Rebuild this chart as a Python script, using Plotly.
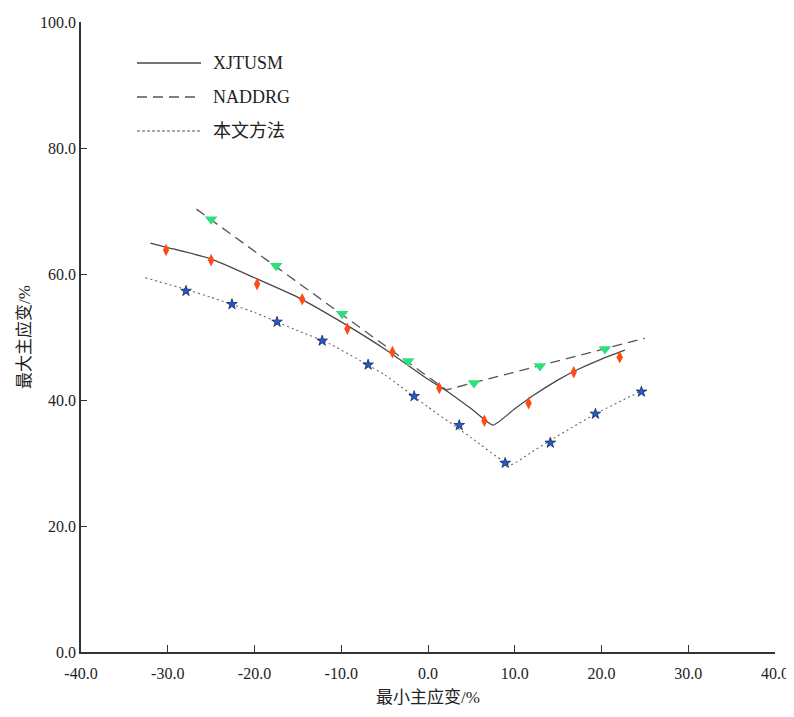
import plotly.graph_objects as go

# ---- data ----
xjtusm_line_x = [-32.0, -30.0, -25.0, -20.0, -15.0, -10.0, -5.0, 0.0, 2.2, 5.0, 7.5, 10.0, 12.0, 15.0, 17.2, 20.0, 22.7]
xjtusm_line_y = [64.9, 64.2, 62.4, 59.4, 56.3, 52.4, 48.1, 43.3, 41.4, 38.6, 36.0, 38.6, 40.6, 43.2, 44.8, 46.5, 47.9]
xjtusm_pts_x = [-30.2, -25.0, -19.7, -14.5, -9.3, -4.1, 1.3, 6.5, 11.6, 16.8, 22.1]
xjtusm_pts_y = [63.8, 62.2, 58.4, 56.0, 51.3, 47.6, 41.9, 36.7, 39.5, 44.4, 46.8]

naddrg_line_x = [-26.7, 2.1, 25.0]
naddrg_line_y = [70.3, 41.6, 49.8]
naddrg_pts_x = [-25.0, -17.5, -9.9, -2.3, 5.3, 12.9, 20.4]
naddrg_pts_y = [68.7, 61.3, 53.7, 46.2, 42.7, 45.4, 48.1]

method_line_x = [-32.6, -28.0, -25.0, -20.0, -15.0, -11.3, -5.0, 0.0, 5.0, 9.5, 11.8, 14.1, 19.3, 24.4]
method_line_y = [59.4, 57.6, 56.3, 53.9, 51.0, 48.9, 44.0, 38.9, 34.0, 29.7, 31.6, 33.6, 37.8, 41.3]
method_pts_x = [-27.9, -22.6, -17.4, -12.2, -6.9, -1.6, 3.6, 8.9, 14.1, 19.3, 24.6]
method_pts_y = [57.3, 55.2, 52.4, 49.4, 45.6, 40.6, 36.0, 30.0, 33.2, 37.8, 41.3]

x_ticks = [-40, -30, -20, -10, 0, 10, 20, 30, 40]
y_ticks = [0, 20, 40, 60, 80, 100]
legend_names = ["XJTUSM", "NADDRG", "本文方法"]
x_title = "最小主应变/%"
y_title = "最大主应变/%"

FONT = "Liberation Serif, Noto Sans CJK SC, serif"
NUMFONT = "Liberation Serif, Times New Roman, serif"

# figure size (page adds an 8px body offset) and plot area in figure pixels
W, H = 786, 709
L, R, T, B = 73, 767, 14, 644

fig = go.Figure()
fig.add_trace(go.Scatter(x=xjtusm_line_x, y=xjtusm_line_y, mode="lines",
                         line=dict(color="#474747", width=1.3, shape="spline", smoothing=0.4),
                         showlegend=False))
fig.add_trace(go.Scatter(x=naddrg_line_x, y=naddrg_line_y, mode="lines",
                         line=dict(color="#555555", width=1.3, dash="10px,6px"),
                         showlegend=False))
fig.add_trace(go.Scatter(x=method_line_x, y=method_line_y, mode="lines",
                         line=dict(color="#666666", width=1.1, dash="2px,3px", shape="spline", smoothing=0.4),
                         showlegend=False))
fig.add_trace(go.Scatter(x=xjtusm_pts_x, y=xjtusm_pts_y, mode="markers",
                         marker=dict(symbol="diamond-tall", size=9, color="#ff4a14",
                                     line=dict(width=0)),
                         showlegend=False))
fig.add_trace(go.Scatter(x=naddrg_pts_x, y=naddrg_pts_y, mode="markers",
                         marker=dict(symbol="triangle-down", size=11, color="#2ee07a",
                                     line=dict(width=0)),
                         showlegend=False))
fig.add_trace(go.Scatter(x=method_pts_x, y=method_pts_y, mode="markers",
                         marker=dict(symbol="star", size=8, color="#1d5bd0",
                                     line=dict(width=0.8, color="#1a2a55")),
                         showlegend=False))

# manual legend (positions given in screenshot pixels)
def px2paper_x(px):
    return (px - 8 - L) / float(R - L)

def px2paper_y(py):
    return (B - (py - 8)) / float(B - T)

leg_rows = [63, 97, 131]
leg_styles = [dict(color="#474747", width=1.5, dash="solid"),
              dict(color="#555555", width=1.5, dash="10px,6px"),
              dict(color="#555555", width=1.2, dash="3px,2px")]
shapes = []
annotations = []
for name, row, st in zip(legend_names, leg_rows, leg_styles):
    shapes.append(dict(type="line", xref="paper", yref="paper",
                       x0=px2paper_x(137), x1=px2paper_x(201),
                       y0=px2paper_y(row), y1=px2paper_y(row), line=st))
    annotations.append(dict(xref="paper", yref="paper", x=px2paper_x(211), y=px2paper_y(row),
                            text=name, showarrow=False, xanchor="left", yanchor="middle",
                            font=dict(family=FONT, size=18, color="#222222")))

fig.update_layout(
    width=W, height=H,
    margin=dict(l=L, r=W - R, t=T, b=H - B),
    plot_bgcolor="white", paper_bgcolor="white",
    font=dict(family=FONT, size=17, color="#222222"),
    shapes=shapes, annotations=annotations,
    showlegend=False,
)
fig.update_xaxes(range=[-40, 40], tickvals=x_ticks, ticktext=[f"{v:.1f}" for v in x_ticks],
                 ticks="inside", ticklen=7, tickwidth=1.2, tickcolor="#333333",
                 showline=True, linecolor="#333333", linewidth=1.5, showgrid=False, zeroline=False,
                 tickfont=dict(family=NUMFONT, size=16), automargin=False, ticklabelstandoff=6,
                 title=dict(text=x_title, font=dict(family=FONT, size=17), standoff=10))
fig.update_yaxes(range=[0, 100], tickvals=y_ticks, ticktext=[f"{v:.1f}" for v in y_ticks],
                 ticks="inside", ticklen=6, tickwidth=1.2, tickcolor="#333333",
                 showline=True, linecolor="#333333", linewidth=1.5, showgrid=False, zeroline=False,
                 tickfont=dict(family=NUMFONT, size=16), automargin=False,
                 title=dict(text=y_title, font=dict(family=FONT, size=17), standoff=5))

fig.write_html("out.html")
